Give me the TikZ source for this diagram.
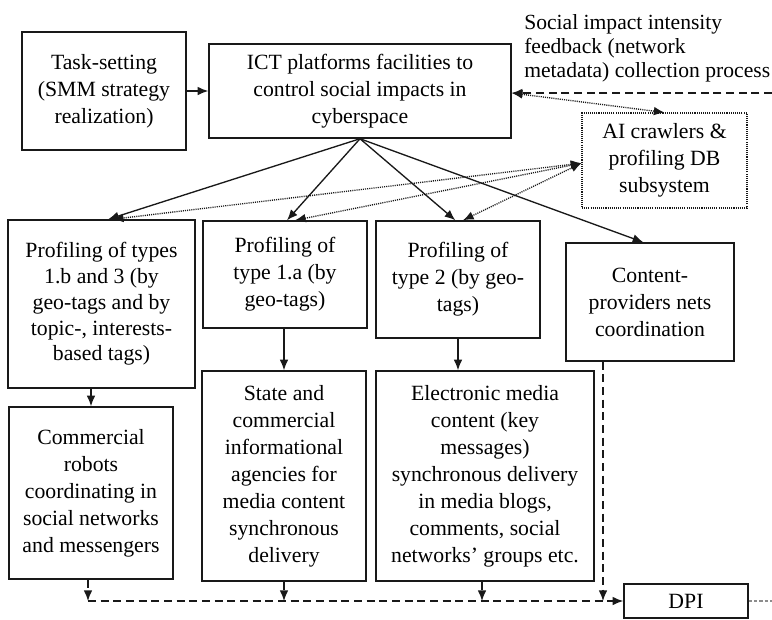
\documentclass[tikz,border=0pt]{standalone}
\usepackage{fontspec}
\setmainfont{Liberation Serif}
\usepackage{xcolor}
\usetikzlibrary{arrows.meta}
\definecolor{ink}{RGB}{25,25,25}
\definecolor{tailgrey}{RGB}{140,140,140}
\tikzstyle{box}=[draw=ink, line width=1.1pt, align=center, inner sep=2pt]
\tikzset{aibox/.style={draw=ink, line width=0.8pt, dash pattern=on 0.8pt off 0.8pt, align=center, inner sep=2pt}}
\tikzset{link/.style={ink, line width=1pt}}
\tikzset{busline/.style={ink, line width=1pt, dash pattern=on 6pt off 3.5pt}}
\tikzset{dotline/.style={ink, line width=1pt, dash pattern=on 0.8pt off 0.8pt}}
\tikzset{tailline/.style={tailgrey, line width=0.9pt, dash pattern=on 2.5pt off 1.5pt}}

\begin{document}
\begin{tikzpicture}[x=0.75pt, y=-0.75pt, >={Latex[length=8pt,width=6.5pt]},
    font=\fontsize{16.3}{20.3}\selectfont]
  \useasboundingbox (0,0) rectangle (772,619);

  \draw (104,91) node[box, minimum width=123pt, minimum height=88.5pt] (task) {Task-setting\\(SMM strategy\\realization)};
  \draw (360,91) node[box, minimum width=226.5pt, minimum height=70.5pt] (ict) {ICT platforms facilities to\\control social impacts in\\cyberspace};
  \draw (664.5,160.5) node[aibox, minimum width=123.75pt, minimum height=71.25pt] (ai) {AI crawlers \&\\profiling DB\\subsystem};
  \draw (524,14) node[anchor=north west, align=left, inner sep=0pt, font=\fontsize{16.2}{18}\selectfont] (feedtext) {Social impact intensity\\feedback (network\\metadata) collection process};

  \draw (101.5,304) node[box, minimum width=140.25pt, minimum height=126pt, font=\fontsize{16.3}{19.3}\selectfont] (prof1b) {Profiling of types\\1.b and 3 (by\\geo-tags and by\\topic-, interests-\\based tags)};
  \draw (285,274.5) node[box, minimum width=123pt, minimum height=80.25pt] (prof1a) {Profiling of\\type 1.a (by\\geo-tags)};
  \draw (458,279.5) node[box, minimum width=123pt, minimum height=87.75pt] (prof2) {Profiling of\\type 2 (by geo-\\tags)};
  \draw (650,302) node[box, minimum width=126pt, minimum height=88.5pt] (cpn) {Content-\\providers nets\\coordination};

  \draw (91,493) node[box, minimum width=123pt, minimum height=129pt] (robots) {Commercial\\robots\\coordinating in\\social networks\\and messengers};
  \draw (284,476) node[box, minimum width=123pt, minimum height=157.5pt] (state) {State and\\commercial\\informational\\agencies for\\media content\\synchronous\\delivery};
  \draw (485,476) node[box, minimum width=163.5pt, minimum height=157.5pt] (media) {Electronic media\\content (key\\messages)\\synchronous delivery\\in media blogs,\\comments, social\\networks' groups etc.};
  \draw (686,601) node[box, minimum width=93pt, minimum height=25.5pt] (dpi) {DPI};

  %% Control flow
  \draw[->, link] (task) -- (ict);
  \draw[->, link] (ict.south) -- ([xshift=5pt]prof1b.north);
  \draw[->, link] (ict.south) -- ([xshift=1.5pt]prof1a.north);
  \draw[->, link] (ict.south) -- ([xshift=-2pt]prof2.north);
  \draw[->, link] (ict.south) -- ([xshift=-5pt]cpn.north);

  \draw[->, link] (prof1b.south -| robots.north) -- (robots.north);
  \draw[->, link] (prof1a.south -| state.north) -- (state.north);
  \draw[->, link] (prof2.south) -- (prof2.south |- media.north);

  %% Crawlers and feedback
  \coordinate (feedin) at (772,93);
  \draw[->, busline] (feedin) -- ([yshift=-1.5pt]ict.east);
  \draw[<->, dotline] ([yshift=-1.5pt]ict.east) -- (ai.north);
  \draw[<->, dotline] ([yshift=-2pt]ai.west) -- ([xshift=8.5pt]prof1b.north);
  \draw[<->, dotline] ([yshift=-2pt]ai.west) -- ([xshift=7.5pt]prof1a.north);
  \draw[<->, dotline] ([yshift=-2pt]ai.west) -- ([xshift=3.75pt]prof2.north);

  %% Bus to DPI
  \coordinate (b1) at (88,601);
  \coordinate (b2) at (284,601);
  \coordinate (b3) at (482,601);
  \coordinate (b4) at (603,601);
  \coordinate (dpiout) at (772,601);
  \draw[->, busline] (robots.south -| b1) -- (b1);
  \draw[->, busline] (state.south -| b2) -- (b2);
  \draw[->, busline] (media.south -| b3) -- (b3);
  \draw[->, busline] (cpn.south -| b4) -- (b4);
  \draw[->, busline] (b1) -- (dpi.west);
  \draw[tailline] (dpi.east) -- (dpiout);
\end{tikzpicture}
\end{document}
